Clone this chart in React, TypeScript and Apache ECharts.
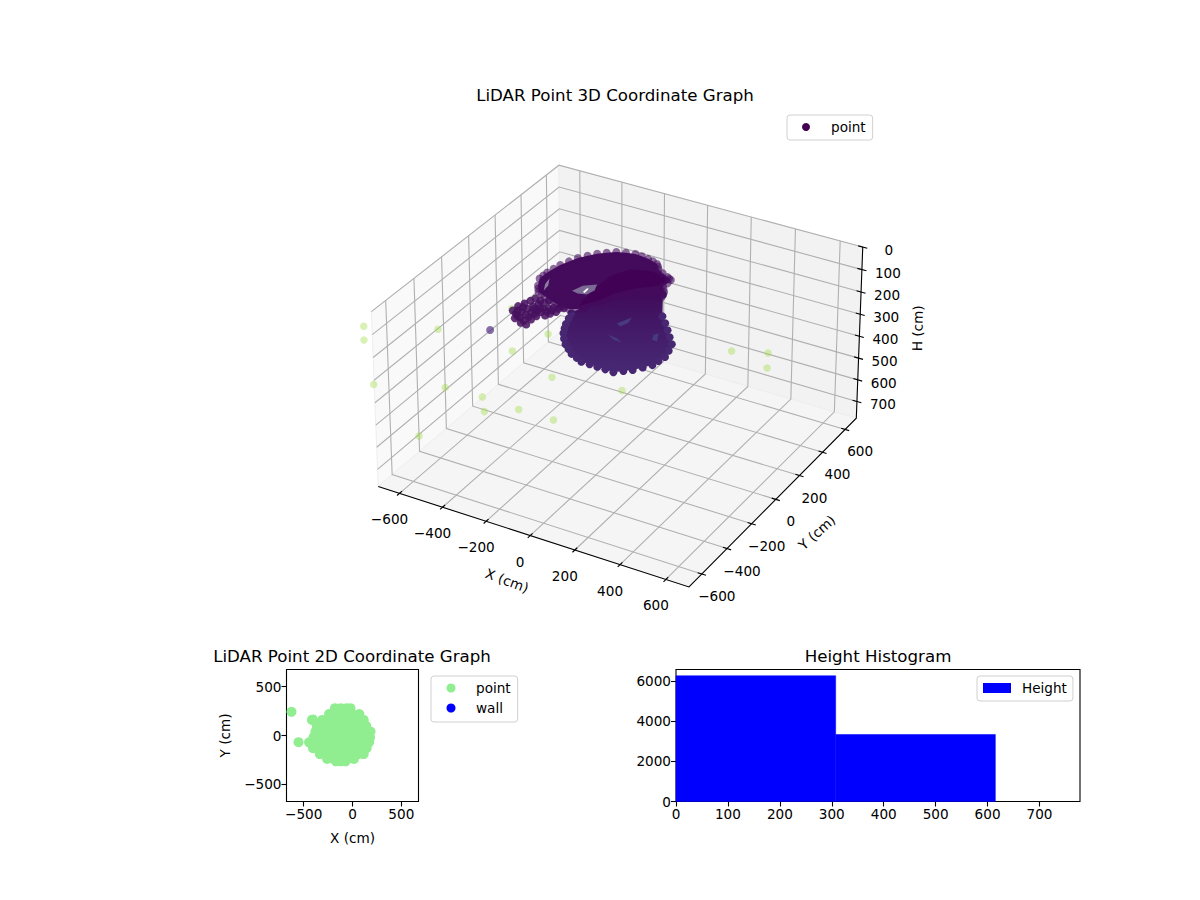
import { useEffect, useRef } from "react";
import * as echarts from "echarts";

const FONT = "DejaVu Sans";
const TICK_SIZE = 13.6;

// 3D view
const LIM = 700;
const H_MAX = 778;
const DEG = Math.PI / 180;
const ELEV = 30 * DEG;
const AZIM = -60 * DEG;
const DIST = 10;
const HALF_XY = 0.5;
const HALF_Z = 0.275;

const XY_TICKS = [-600, -400, -200, 0, 200, 400, 600];
const H_TICKS = [0, 100, 200, 300, 400, 500, 600, 700];

// 3D points, [x, y] in cm, each list at one height
const RING_H = 30;
const RING_OUTLINE = [[-281, -160], [-304, -110], [-304, -82], [-303, -54], [-297, -15], [-290, 24], [-275, 66], [-259, 108], [-235, 143], [-210, 175], [-182, 202], [-152, 226], [-116, 240], [-78, 249], [-47, 246], [-15, 240], [11, 232], [36, 221], [50, 205], [63, 186], [92, 168], [124, 150], [135, 143], [146, 137], [148, 107], [143, 79], [157, 59], [171, 39], [177, 19], [182, 0], [153, -13], [124, -25], [91, -44], [58, -64], [41, -84], [24, -104], [13, -134], [0, -163], [-35, -228], [-58, -244], [-83, -258], [-115, -254], [-147, -248], [-181, -235], [-214, -220], [-233, -211], [-254, -201], [-268, -180]];
const RING_DARK = [[-71, -174], [-77, -58], [-76, 46], [-34, 130], [41, 158], [124, 147], [149, 117], [122, 71], [55, 3], [6, -70], [-14, -141], [-61, -218]];
const RING_HOLE = [[-145, -130], [-129, -74], [-85, -39], [-70, -84], [-81, -126], [-115, -137]];
const RING_GAP = [[-103, -118], [-105, -83], [-96, -84], [-93, -121]];
const RING_SLIT = [[-241, -183], [-263, -136], [-271, -90], [-246, -141]];

const LOWER_H = 255;
const LOWER_OUTLINE = [[-263, 61], [-250, 19], [-238, -23], [-224, -57], [-209, -91], [-186, -125], [-158, -161], [-129, -186], [-100, -212], [-67, -228], [-36, -245], [1, -245], [36, -246], [73, -248], [111, -251], [140, -224], [167, -199], [191, -163], [215, -129], [220, -90], [227, -51], [216, -2], [202, 48], [168, 91], [134, 135], [99, 178], [63, 220], [-22, 374], [-208, 326]];
const LOWER_STREAKS = [
  [[-66, 81], [-38, 151], [-29, 109], [-42, 66]],
  [[-50, -13], [-8, -19], [26, -38], [-13, -37]],
  [[104, 76], [115, 97], [141, 38], [118, 39]],
];

const CLUMP_H = 60;
const CLUMP = [[-292, -331], [-292, -292], [-281, -262], [-272, -233], [-265, -206], [-268, -347], [-257, -320], [-249, -291], [-241, -263], [-231, -239], [-218, -220], [-211, -195], [-254, -378], [-239, -363], [-231, -334], [-223, -306], [-209, -283], [-196, -261], [-181, -246], [-168, -230], [-145, -231], [-130, -217], [-216, -397], [-191, -397], [-195, -355], [-190, -323], [-164, -302], [-154, -281], [-141, -258], [-275, -321], [-271, -289], [-253, -359], [-214, -378], [-213, -344], [-205, -310], [-227, -278], [-210, -263], [-191, -287], [-174, -272], [-161, -255], [-149, -210], [-239, -212]];
const LONE = [[-289, -502]];

const STRAY_H = 300;
const STRAY = [[-965, -373], [-905, -462], [-684, -727], [-697, -245], [-432, -608], [-327, -957], [-271, -596], [-207, -684], [-102, -605], [53, -605], [-115, -336], [-353, -242], [-529, 40], [-299, -59], [170, -287], [393, 188], [524, 246], [575, 142]];

// 2D plot
const XY2D_LIM = 676;
const XY2D_TICKS = [-500, 0, 500];
const POINTS_2D = [
  [-180, 280], [-120, 280], [-60, 280], [-20, 280],
  [-240, 220], [-180, 220], [-120, 220], [-60, 220], [0, 220], [70, 220],
  [-310, 160], [-240, 160], [-170, 160], [-100, 160], [-30, 160], [40, 160], [115, 160],
  [-365, 100], [-300, 100], [-230, 100], [-160, 100], [-90, 100], [-20, 100], [50, 100], [140, 100],
  [-380, 40], [-310, 40], [-240, 40], [-170, 40], [-100, 40], [-30, 40], [40, 40], [110, 40], [185, 40],
  [-400, -20], [-330, -20], [-260, -20], [-190, -20], [-120, -20], [-50, -20], [20, -20], [90, -20], [180, -20],
  [-445, -70], [-380, -70], [-310, -70], [-240, -70], [-170, -70], [-100, -70], [-30, -70], [40, -70], [105, -70], [170, -70],
  [-405, -130], [-330, -130], [-260, -130], [-190, -130], [-120, -130], [-50, -130], [20, -130], [90, -130], [145, -130],
  [-335, -190], [-270, -190], [-200, -190], [-130, -190], [-60, -190], [10, -190], [60, -190], [115, -190],
  [-260, -240], [-190, -240], [-120, -240], [-50, -240], [15, -240],
  [-170, -265], [-120, -265], [-70, -265],
  [-625, 242], [-553, -68], [-416, 160], [-405, 165],
];

// histogram
const BIN_EDGES = [0, 307.5, 615];
const BIN_COUNTS = [6250, 3330];
const HIST_X_TICKS = [0, 100, 200, 300, 400, 500, 600, 700];
const HIST_Y_TICKS = [0, 2000, 4000, 6000];

const minus = (v: number) => String(v).replace("-", "\u2212");

const U = [-Math.sin(AZIM), Math.cos(AZIM), 0];
const V = [-Math.sin(ELEV) * Math.cos(AZIM), -Math.sin(ELEV) * Math.sin(AZIM), Math.cos(ELEV)];
const W = [Math.cos(ELEV) * Math.cos(AZIM), Math.cos(ELEV) * Math.sin(AZIM), Math.sin(ELEV)];

// world (cm) to the hidden plane the 3D scene is drawn on
function project(x: number, y: number, h: number): number[] {
  const p = [(x / LIM) * HALF_XY, (y / LIM) * HALF_XY, HALF_Z * (1 - (2 * h) / H_MAX)];
  const dot = (a: number[]) => a[0] * p[0] + a[1] * p[1] + a[2] * p[2];
  const s = 1 / (DIST - dot(W));
  return [dot(U) * s, dot(V) * s];
}

const at = (list: number[][], h: number) => list.map(([x, y]) => project(x, y, h));

const BOT = H_MAX;
const PANE_X = [[-LIM, -LIM, 0], [-LIM, LIM, 0], [-LIM, LIM, BOT], [-LIM, -LIM, BOT]];
const PANE_Y = [[-LIM, LIM, 0], [LIM, LIM, 0], [LIM, LIM, BOT], [-LIM, LIM, BOT]];
const PANE_Z = [[-LIM, -LIM, BOT], [LIM, -LIM, BOT], [LIM, LIM, BOT], [-LIM, LIM, BOT]];

type Item = { kind: "fill" | "stroke" | "text"; pts: number[][]; color: string; width?: number; text?: string; dx?: number; dy?: number; rot?: number };

function buildFrame(): Item[] {
  const items: Item[] = [];
  const world = (l: number[][]) => l.map((p) => project(p[0], p[1], p[2]));
  items.push({ kind: "fill", pts: world(PANE_X), color: "#f9f9f9" });
  items.push({ kind: "fill", pts: world(PANE_Y), color: "#f2f2f2" });
  items.push({ kind: "fill", pts: world(PANE_Z), color: "#f5f5f5" });
  const grid = "#b0b0b0";
  XY_TICKS.forEach((t) => {
    items.push({ kind: "stroke", color: grid, width: 1.1, pts: world([[t, -LIM, BOT], [t, LIM, BOT], [t, LIM, 0]]) });
    items.push({ kind: "stroke", color: grid, width: 1.1, pts: world([[LIM, t, BOT], [-LIM, t, BOT], [-LIM, t, 0]]) });
  });
  H_TICKS.forEach((t) => {
    items.push({ kind: "stroke", color: grid, width: 1.1, pts: world([[-LIM, -LIM, t], [-LIM, LIM, t], [LIM, LIM, t]]) });
  });
  items.push({ kind: "stroke", color: "#000", width: 1.1, pts: world([[-LIM, -LIM, BOT], [LIM, -LIM, BOT], [LIM, LIM, BOT], [LIM, LIM, 0]]) });
  XY_TICKS.forEach((t) => {
    items.push({ kind: "stroke", color: "#000", width: 1.1, pts: world([[t, -LIM - 18, BOT], [t, -LIM + 18, BOT]]) });
    items.push({ kind: "text", color: "#000", text: minus(t), pts: world([[t, -LIM, BOT]]), dx: -10, dy: 26 });
    items.push({ kind: "stroke", color: "#000", width: 1.1, pts: world([[LIM - 18, t, BOT], [LIM + 18, t, BOT]]) });
    items.push({ kind: "text", color: "#000", text: minus(t), pts: world([[LIM, t, BOT]]), dx: 15, dy: 22 });
  });
  H_TICKS.forEach((t) => {
    items.push({ kind: "stroke", color: "#000", width: 1.1, pts: world([[LIM - 20, LIM, t], [LIM + 20, LIM, t]]) });
    items.push({ kind: "text", color: "#000", text: String(t), pts: world([[LIM, LIM, t]]), dx: 26, dy: 3 });
  });
  items.push({ kind: "text", color: "#000", text: "X (cm)", pts: world([[0, -LIM, BOT]]), dx: -23, dy: 45, rot: -0.36 });
  items.push({ kind: "text", color: "#000", text: "Y (cm)", pts: world([[LIM, 0, BOT]]), dx: 41, dy: 33, rot: 0.73 });
  items.push({ kind: "text", color: "#000", text: "H (cm)", pts: world([[LIM, LIM, BOT / 2]]), dx: 58, dy: -5.5, rot: 1.55 });
  return items;
}

const FRAME = buildFrame();

function frameItem(params: any, api: any) {
  const item = FRAME[params.dataIndex];
  const pts = item.pts.map((p) => api.coord(p));
  if (item.kind === "fill") {
    return { type: "polygon", shape: { points: pts }, style: { fill: item.color, stroke: "#eeeeee", lineWidth: 1 } };
  }
  if (item.kind === "stroke") {
    return { type: "polyline", shape: { points: pts }, style: { fill: "none", stroke: item.color, lineWidth: item.width } };
  }
  return {
    type: "text",
    x: pts[0][0] + (item.dx ?? 0),
    y: pts[0][1] + (item.dy ?? 0),
    rotation: item.rot ?? 0,
    style: { text: item.text, fill: item.color, fontFamily: FONT, fontSize: TICK_SIZE, align: "center", verticalAlign: "middle" },
  };
}

const scene = { xAxisIndex: 0, yAxisIndex: 0 };

function shape(pts: number[][], fill: unknown, z: number) {
  return {
    ...scene,
    type: "custom" as const,
    silent: true,
    clip: false,
    z,
    data: [pts[0]],
    renderItem: (_: any, api: any) => ({
      type: "polygon",
      shape: { points: pts.map((p) => api.coord(p)) },
      style: { fill },
    }),
  };
}

function dots(name: string, pts: number[][], color: string, opacity: number, z: number, size = 8) {
  return {
    ...scene,
    name,
    type: "scatter" as const,
    silent: true,
    clip: false,
    z,
    symbolSize: size,
    itemStyle: { color, opacity },
    data: pts,
  };
}

const axisText = { color: "#000", fontFamily: FONT, fontSize: TICK_SIZE, margin: 5 };
const tickLine = { show: true, length: 5, lineStyle: { color: "#000", width: 1.1 } };
const noLine = { show: false, onZero: false };
const legendBox = {
  show: true,
  selectedMode: false,
  backgroundColor: "#fff",
  borderColor: "#d0d0d0",
  borderWidth: 1,
  borderRadius: 3,
  itemWidth: 28,
  itemHeight: 9,
  textStyle: {
    color: "#000",
    fontFamily: FONT,
    fontSize: TICK_SIZE,
    rich: { t: { fontFamily: FONT, fontSize: TICK_SIZE, lineHeight: 14, padding: [0, 0, 0, 6] } },
  },
};
const titleText = { color: "#000", fontFamily: FONT, fontSize: 16.67, fontWeight: "normal" as const };

export default function App() {
  const ref = useRef<HTMLDivElement>(null);

  useEffect(() => {
    if (!ref.current) return;
    const chart = echarts.init(ref.current, undefined, { renderer: "svg" });

    chart.setOption({
      animation: false,
      title: [
        { text: "LiDAR Point 3D Coordinate Graph", left: 615, top: 87, padding: 0, textAlign: "center", textStyle: titleText },
        { text: "LiDAR Point 2D Coordinate Graph", left: 352, top: 648, padding: 0, textAlign: "center", textStyle: titleText },
        { text: "Height Histogram", left: 878, top: 648, padding: 0, textAlign: "center", textStyle: titleText },
      ],
      legend: [
        {
          ...legendBox,
          left: 787,
          top: 115,
          itemHeight: 8,
          padding: [5, 7, 6, 15],
          formatter: "{t|{name}}",
          data: [{ name: "point", icon: "circle", itemStyle: { color: "#440154", opacity: 1 } }],
        },
        {
          ...legendBox,
          left: 431,
          top: 676,
          orient: "vertical",
          itemGap: 6,
          padding: [5, 7, 7, 15.5],
          formatter: (n: string) => `{t|${n === "2D point" ? "point" : n}}`,
          data: [
            { name: "2D point", icon: "circle", itemStyle: { color: "#90ee90", opacity: 1 } },
            { name: "wall", icon: "circle", itemStyle: { color: "#0000ff", opacity: 1 } },
          ],
        },
        {
          ...legendBox,
          left: 977,
          top: 676,
          itemHeight: 10,
          padding: [5, 6, 6, 6],
          formatter: "{t|{name}}",
          data: [{ name: "Height", icon: "rect", itemStyle: { color: "#0000ff" } }],
        },
      ],
      grid: [
        { left: 0, top: 0, width: 1200, height: 900, show: false },
        { left: 286.5, top: 669.5, width: 132, height: 132, show: true, borderColor: "#000", borderWidth: 1.1 },
        { left: 676, top: 669.5, width: 404, height: 132, show: true, borderColor: "#000", borderWidth: 1.1 },
      ],
      xAxis: [
        { type: "value", gridIndex: 0, show: false, min: -621 / 3547, max: 579 / 3547 },
        {
          type: "value",
          gridIndex: 1,
          min: -XY2D_LIM,
          max: XY2D_LIM,
          name: "X (cm)",
          nameLocation: "middle",
          nameGap: 29,
          nameTextStyle: { color: "#000", fontFamily: FONT, fontSize: TICK_SIZE },
          axisLine: noLine,
          axisTick: { ...tickLine, customValues: XY2D_TICKS },
          axisLabel: { ...axisText, customValues: XY2D_TICKS, formatter: minus },
          splitLine: { show: false },
        },
        {
          type: "value",
          gridIndex: 2,
          min: 0,
          max: 778,
          axisLine: noLine,
          axisTick: { ...tickLine, customValues: HIST_X_TICKS },
          axisLabel: { ...axisText, customValues: HIST_X_TICKS, formatter: String },
          splitLine: { show: false },
        },
      ],
      yAxis: [
        { type: "value", gridIndex: 0, show: false, min: (366.5 - 900) / 3630, max: 366.5 / 3630 },
        {
          type: "value",
          gridIndex: 1,
          min: -XY2D_LIM,
          max: XY2D_LIM,
          name: "Y (cm)",
          nameLocation: "middle",
          nameGap: 55,
          nameTextStyle: { color: "#000", fontFamily: FONT, fontSize: TICK_SIZE },
          axisLine: noLine,
          axisTick: { ...tickLine, customValues: XY2D_TICKS },
          axisLabel: { ...axisText, customValues: XY2D_TICKS, formatter: minus },
          splitLine: { show: false },
        },
        {
          type: "value",
          gridIndex: 2,
          min: 0,
          max: 6560,
          axisLine: noLine,
          axisTick: { ...tickLine, customValues: HIST_Y_TICKS },
          axisLabel: { ...axisText, customValues: HIST_Y_TICKS, formatter: String },
          splitLine: { show: false },
        },
      ],
      series: [
        {
          ...scene,
          type: "custom",
          silent: true,
          clip: false,
          z: 1,
          data: FRAME.map(() => [0, 0]),
          renderItem: frameItem,
        },
        dots("stray", at(STRAY, STRAY_H), "#9bd93c", 0.38, 2, 7.5),
        dots("lower", at(LOWER_OUTLINE, LOWER_H), "#472672", 1, 3),
        shape(
          at(LOWER_OUTLINE, LOWER_H),
          new echarts.graphic.LinearGradient(0, 0, 0, 1, [
            { offset: 0, color: "#3f0a5a" },
            { offset: 0.55, color: "#441c69" },
            { offset: 1, color: "#472974" },
          ]),
          3
        ),
        ...LOWER_STREAKS.map((s) => shape(at(s, LOWER_H), "#473a80", 3)),
        dots("point", at(CLUMP, CLUMP_H), "#46105f", 0.85, 4),
        dots("lone", at(LONE, CLUMP_H), "#47247a", 0.65, 4),
        dots("rim", at(RING_OUTLINE, RING_H), "#450b5e", 0.6, 5),
        shape(at(RING_OUTLINE, RING_H), "#440a5c", 5),
        shape(at(RING_DARK, RING_H), "#410256", 5),
        shape(at(RING_HOLE, RING_H), "#7b6a93", 5),
        shape(at(RING_GAP, RING_H), "#ffffff", 5),
        shape(at(RING_SLIT, RING_H), "#8d7da3", 5),
        {
          name: "2D point",
          type: "scatter",
          xAxisIndex: 1,
          yAxisIndex: 1,
          silent: true,
          symbolSize: 10,
          itemStyle: { color: "#90ee90", opacity: 1 },
          data: POINTS_2D,
        },
        { name: "wall", type: "scatter", xAxisIndex: 1, yAxisIndex: 1, itemStyle: { color: "#0000ff", opacity: 1 }, data: [] },
        {
          name: "Height",
          type: "custom",
          xAxisIndex: 2,
          yAxisIndex: 2,
          silent: true,
          itemStyle: { color: "#0000ff" },
          encode: { x: [0, 1], y: 2 },
          data: BIN_COUNTS.map((c, i) => [BIN_EDGES[i], BIN_EDGES[i + 1], c]),
          renderItem: (_: any, api: any) => {
            const a = api.coord([api.value(0), api.value(2)]);
            const b = api.coord([api.value(1), 0]);
            return { type: "rect", shape: { x: a[0], y: a[1], width: b[0] - a[0], height: b[1] - a[1] }, style: { fill: "#0000ff", stroke: "#0000ff", lineWidth: 0.5 } };
          },
        },
      ],
    });

    return () => chart.dispose();
  }, []);

  return <div ref={ref} style={{ position: "absolute", left: 0, top: 0, width: 1200, height: 900 }} />;
}
